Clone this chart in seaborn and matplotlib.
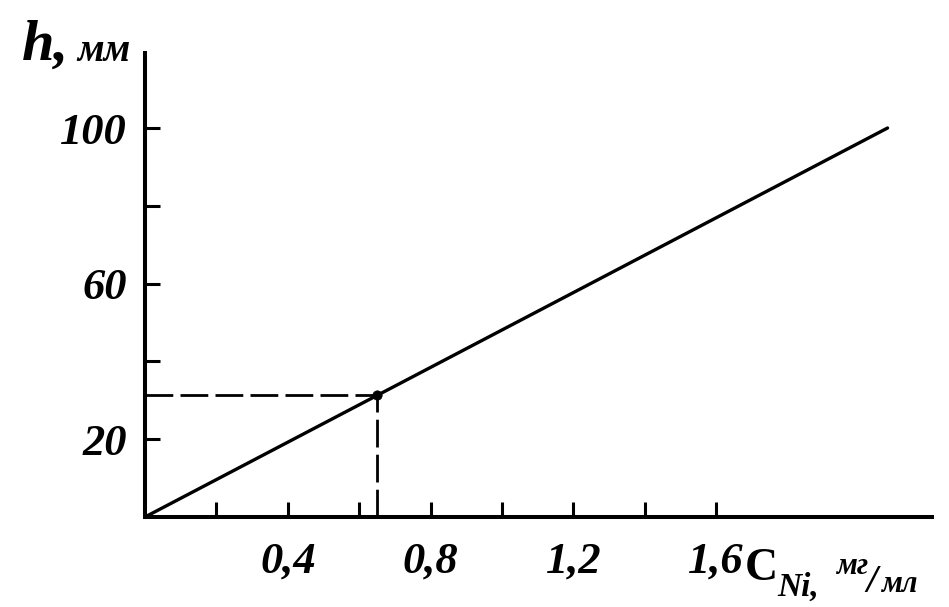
import matplotlib
matplotlib.use("Agg")
import matplotlib.pyplot as plt
import seaborn as sns

# ---------------------------------------------------------------
# data read off the calibration graph  h = f(C_Ni)
# ---------------------------------------------------------------
conc = [0.0, 2.08]          # C_Ni, mg/ml
height = [0.0, 100.0]       # h, mm
probe_conc = [0.65]         # sample read on the line
probe_height = [31.3]

x_ticks = [0.2, 0.4, 0.6, 0.8, 1.0, 1.2, 1.4, 1.6]
x_labels = ["", "0,4", "", "0,8", "", "1,2", "", "1,6"]
y_ticks = [20, 40, 60, 80, 100]
y_labels = ["20", "", "60", "", "100"]

sns.set_style("ticks")
plt.rcParams["font.family"] = ["Liberation Serif", "DejaVu Serif"]
plt.rcParams["text.color"] = "black"
plt.rcParams["xtick.color"] = "black"
plt.rcParams["ytick.color"] = "black"

W, H = 949, 607
fig = plt.figure(figsize=(W / 100, H / 100), dpi=100)
ax = fig.add_axes([145 / W, 90 / H, 787 / W, 464 / H])


def px(x, y):
    return x / W, 1 - y / H


# main line + sample point
sns.lineplot(x=conc, y=height, color="black", linewidth=2.4, ax=ax)
ax.plot([0, probe_conc[0]], [probe_height[0], probe_height[0]],
        color="black", linewidth=2.0, dashes=(10, 2.6))
ax.plot([probe_conc[0], probe_conc[0]], [0, probe_height[0]],
        color="black", linewidth=2.0, dashes=(10, 2.6))
sns.scatterplot(x=probe_conc, y=probe_height, color="black", s=45,
                edgecolor="black", zorder=5, ax=ax)

ax.set_xlim(0, 787 / 357)
ax.set_ylim(0, 464 / 3.89)

ax.set_xticks(x_ticks)
ax.set_xticklabels(x_labels)
ax.set_yticks(y_ticks)
ax.set_yticklabels(y_labels)

tick_font = dict(family="Liberation Serif", weight="bold", style="italic", size=32)
for lbl in ax.get_xticklabels() + ax.get_yticklabels():
    lbl.set_fontproperties(matplotlib.font_manager.FontProperties(**tick_font))
    lbl.set_color("black")

ax.tick_params(axis="both", direction="in", length=10.8, width=2.2, color="black")
ax.tick_params(axis="x", pad=18)
ax.tick_params(axis="y", pad=13)

sns.despine(ax=ax)
for side in ["left", "bottom"]:
    ax.spines[side].set_linewidth(2.9)
    ax.spines[side].set_color("black")

# y axis label  "h, мм"
fig.text(*px(22, 60), "h,", family="Liberation Serif", weight="bold",
         style="italic", size=42, va="baseline", ha="left")
fig.text(*px(77, 61), "мм", family="Liberation Serif", weight="bold",
         style="italic", size=28, va="baseline", ha="left")

# x axis label  "C_Ni, мг/мл"
fig.text(*px(745, 580), "C", family="Liberation Serif", weight="bold",
         size=33, va="baseline", ha="left")
fig.text(*px(777, 596), "Ni,", family="Liberation Serif", weight="bold",
         style="italic", size=24, va="baseline", ha="left")
fig.text(*px(836, 574), "мг", family="Liberation Serif", weight="bold",
         style="italic", size=22, va="baseline", ha="left")
fig.text(*px(866, 592), "/", family="Liberation Serif", weight="bold",
         style="italic", size=28, va="baseline", ha="left")
fig.text(*px(881, 592), "мл", family="Liberation Serif", weight="bold",
         style="italic", size=22, va="baseline", ha="left")

fig.savefig("out.png", dpi=100, facecolor="white")
